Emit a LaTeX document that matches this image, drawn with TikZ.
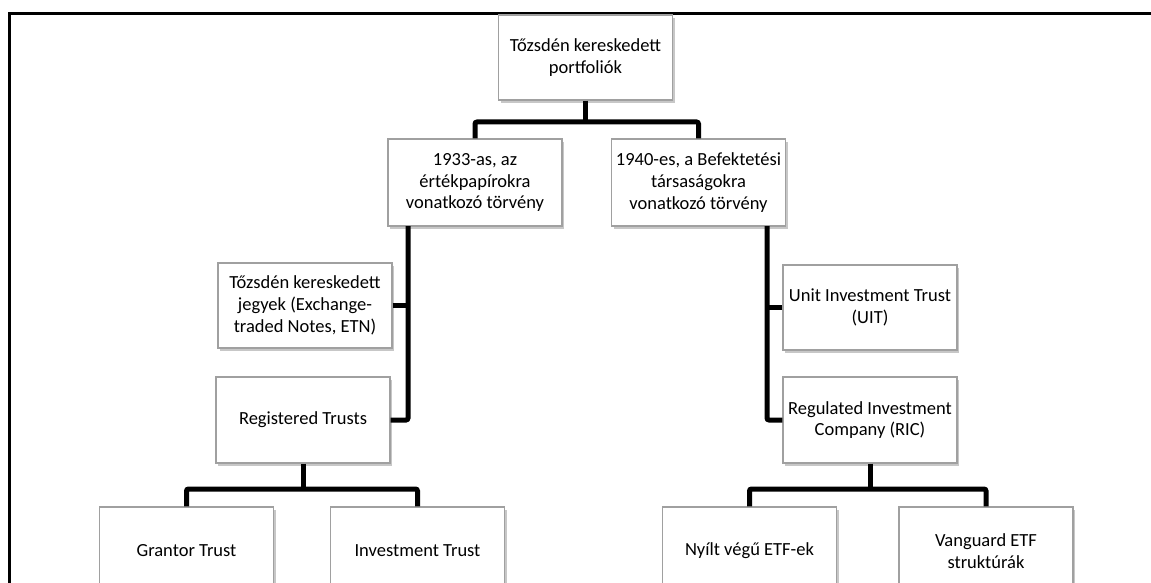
\documentclass[tikz,border=0pt]{standalone}
\usepackage{fontspec}
\setmainfont{Carlito}
\usetikzlibrary{shadows}
\definecolor{boxline}{HTML}{A0A0A0}
\tikzset{
  box/.style={draw=boxline, line width=1.2pt, fill=white, align=center,
    minimum width=174pt, minimum height=86pt, inner sep=2pt,
    font=\fontsize{18.5}{21.7}\selectfont,
    drop shadow={shadow xshift=2pt, shadow yshift=-3pt, fill=black, opacity=0.22}},
  conn/.style={line width=5pt, rounded corners=2pt},
  frame/.style={line width=3pt}
}
\begin{document}
\begin{tikzpicture}[x=1pt,y=-1pt]
\useasboundingbox (0,0) rectangle (1151,583);
\draw[frame] (9,583) -- (9,14) -- (1151,14);
\node[box, minimum height=85pt] (top) at (585.5,57.5) {Tőzsdén kereskedett\\portfoliók};
\node[box, minimum height=87pt] (la) at (475,182.5) {1933-as, az\\értékpapírokra\\vonatkozó törvény};
\node[box, minimum height=87pt] (lb) at (698.5,182.5) {1940-es, a Befektetési\\társaságokra\\vonatkozó törvény};
\node[box, minimum height=85pt] (etn) at (305,305.5) {Tőzsdén kereskedett\\jegyek (Exchange-\\traded Notes, ETN)};
\node[box] (rt) at (303,420) {Registered Trusts};
\node[box, minimum height=85pt] (uit) at (870,307.5) {Unit Investment Trust\\(UIT)};
\node[box] (ric) at (870,420) {Regulated Investment\\Company (RIC)};
\node[box, minimum height=88pt] (gt) at (186.5,551) {Grantor Trust};
\node[box, minimum height=88pt] (it) at (417.5,551) {Investment Trust};
\node[box, minimum height=88pt] (ny) at (749.5,551) {Nyílt végű ETF-ek};
\node[box, minimum height=88pt] (vg) at (986,551) {Vanguard ETF\\struktúrák};
\coordinate (b1) at (585.5,122);
\coordinate (b2) at (303,489);
\coordinate (b3) at (870,489);
\coordinate (lt) at (408,226);
\coordinate (rtr) at (767,226);
\draw[conn] (top) -- (b1);
\draw[conn] (la.north) |- (b1) -| (lb.north);
\draw[conn] (lt) |- (rt.east);
\draw[conn] (etn.east) -- (etn.east -| lt);
\draw[conn] (rtr) |- (ric.west);
\draw[conn] (uit.west) -- (uit.west -| rtr);
\draw[conn] (rt) -- (b2);
\draw[conn] (gt.north) |- (b2) -| (it.north);
\draw[conn] (ric) -- (b3);
\draw[conn] (ny.north) |- (b3) -| (vg.north);
\end{tikzpicture}
\end{document}
